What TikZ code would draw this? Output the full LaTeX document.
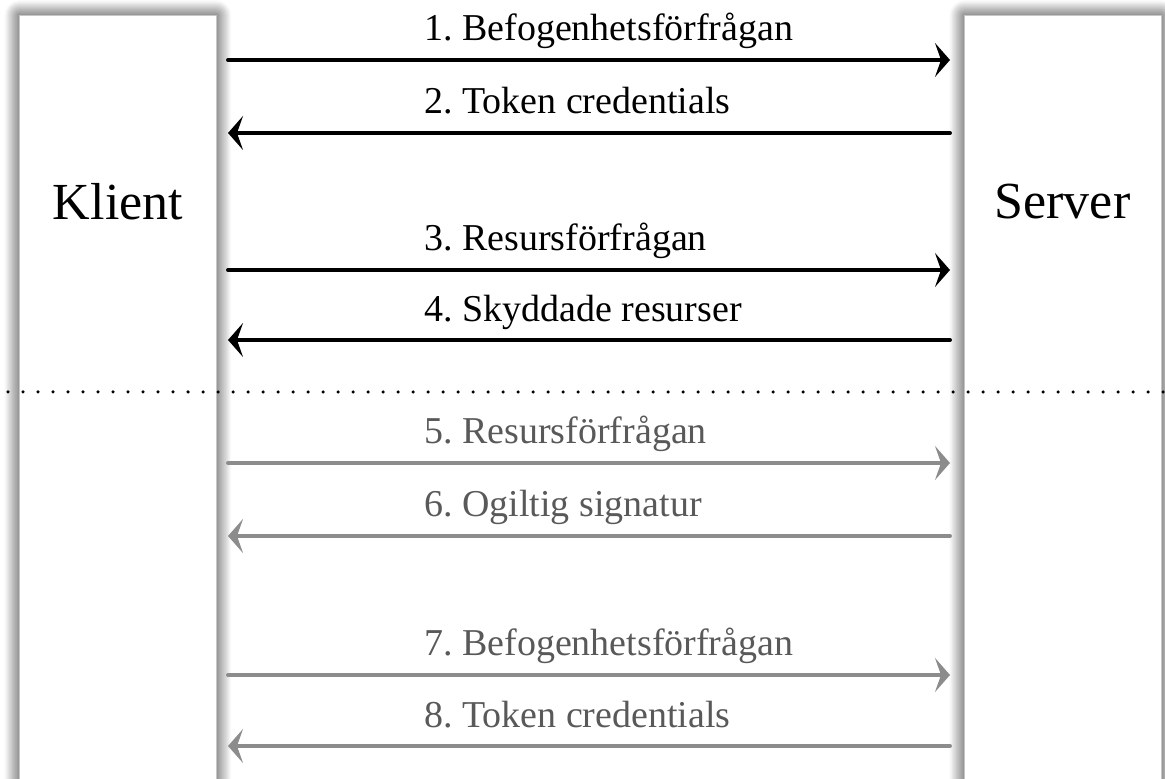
\documentclass[tikz,border=0pt]{standalone}
\usepackage{fontspec}
\setmainfont{Liberation Serif}
\usetikzlibrary{arrows.meta,shadows.blur}

\begin{document}
\begin{tikzpicture}[line cap=round,line join=round,>={Stealth[length=0.3cm,width=0.68cm,inset=0.12cm]},x=1.0cm,y=1.0cm,
  kolumn/.style={fill=white,draw=gray!45,line width=0.4pt,minimum width=3.94cm,minimum height=17.cm,anchor=north west,inner sep=0pt,
    blur shadow={shadow xshift=0pt,shadow yshift=0pt,shadow blur radius=0.3cm,shadow blur steps=14,shadow opacity=90}},
  namn/.style={font=\fontsize{29.6}{35}\selectfont},
  etikett/.style={anchor=base west,inner sep=0pt,font=\fontsize{21.6}{26}\selectfont},
  svart/.style={line width=0.08cm,->},
  gra/.style={line width=0.08cm,->,color=gray!90}]

\useasboundingbox (0.,0.) rectangle (23.3,15.56);

\node[kolumn] (klient) at (0.38,15.26) {};
\node[kolumn] (server) at (19.28,15.26) {};
\node[namn] (klienttext) at (2.36,11.52) {Klient};
\node[namn] (servertext) at (21.25,11.52) {Server};

\draw [line width=0.07cm,dash pattern=on 0pt off 0.3cm] (0.16,7.72)-- (23.3,7.72);

\coordinate (k1) at (4.56,14.36);
\coordinate (s1) at (19.,14.36);
\coordinate (k2) at (4.56,12.9);
\coordinate (s2) at (19.,12.9);
\coordinate (k3) at (4.56,10.16);
\coordinate (s3) at (19.,10.16);
\coordinate (k4) at (4.56,8.76);
\coordinate (s4) at (19.,8.76);
\coordinate (k5) at (4.56,6.3);
\coordinate (s5) at (19.,6.3);
\coordinate (k6) at (4.56,4.84);
\coordinate (s6) at (19.,4.84);
\coordinate (k7) at (4.56,2.06);
\coordinate (s7) at (19.,2.06);
\coordinate (k8) at (4.56,0.64);
\coordinate (s8) at (19.,0.64);

\draw [svart] (k1)-- (s1);
\draw [svart] (s2)-- (k2);
\draw [svart] (k3)-- (s3);
\draw [svart] (s4)-- (k4);
\draw [gra] (k5)-- (s5);
\draw [gra] (s6)-- (k6);
\draw [gra] (k7)-- (s7);
\draw [gra] (s8)-- (k8);

\node[etikett] (t1) at (8.48,14.74) {1.\ Befogenhetsförfrågan};
\node[etikett] (t2) at (8.48,13.28) {2.\ Token credentials};
\node[etikett] (t3) at (8.48,10.54) {3.\ Resursförfrågan};
\node[etikett] (t4) at (8.48,9.12) {4.\ Skyddade resurser};
\begin{scope}[color=black!65]
\node[etikett] (t5) at (8.48,6.68) {5.\ Resursförfrågan};
\node[etikett] (t6) at (8.48,5.22) {6.\ Ogiltig signatur};
\node[etikett] (t7) at (8.48,2.44) {7.\ Befogenhetsförfrågan};
\node[etikett] (t8) at (8.48,1.02) {8.\ Token credentials};
\end{scope}
\end{tikzpicture}
\end{document}
